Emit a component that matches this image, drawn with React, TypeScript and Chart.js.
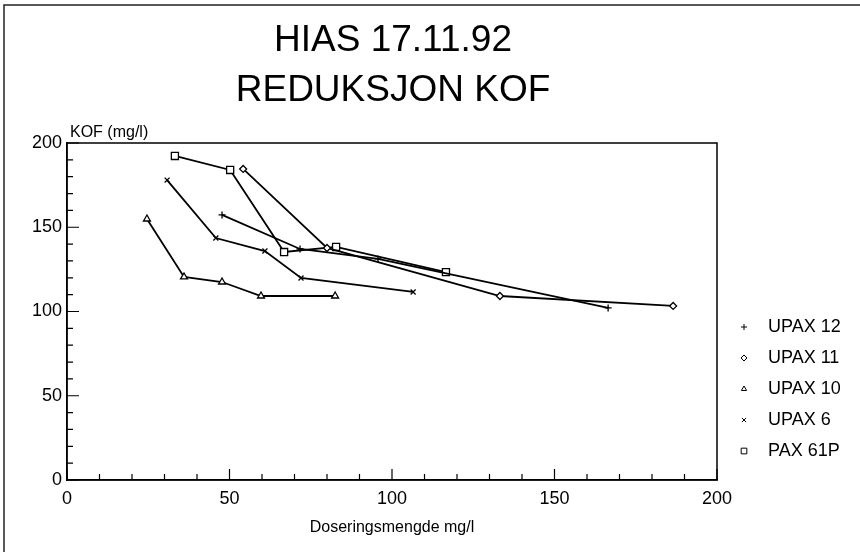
import { useEffect, useRef } from "react";
import { Chart, registerables } from "chart.js";
import { drawPoint } from "chart.js/helpers";

Chart.register(...registerables);

const titleLines = ["HIAS 17.11.92", "REDUKSJON KOF"];
const yAxisTitle = "KOF (mg/l)";
const xAxisTitle = "Doseringsmengde mg/l";

const seriesLabels = ["UPAX 12", "UPAX 11", "UPAX 10", "UPAX 6", "PAX 61P"];
const seriesStyles = ["cross", "rectRot", "triangle", "crossRot", "rect"];

const upax12X = [47.7, 71.7, 95.7, 166.5];
const upax12Y = [157.3, 137.1, 131.2, 102.1];
const upax11X = [54.2, 80.0, 133.2, 186.5];
const upax11Y = [184.6, 137.7, 109.2, 103.3];
const upax10X = [24.6, 36.0, 47.7, 59.7, 82.5];
const upax10Y = [154.9, 120.5, 117.5, 109.2, 109.2];
const upax6X = [30.8, 45.8, 60.9, 72.0, 106.5];
const upax6Y = [178.0, 143.6, 135.9, 119.9, 111.6];
const pax61X = [33.2, 50.2, 66.8, 82.8, 116.6];
const pax61Y = [192.3, 184.0, 135.3, 138.3, 123.4];

const xTickValues = [0, 50, 100, 150, 200];
const yTickValues = [0, 50, 100, 150, 200];
const minorStep = 10;

const seriesX = [upax12X, upax11X, upax10X, upax6X, pax61X];
const seriesY = [upax12Y, upax11Y, upax10Y, upax6Y, pax61Y];

const FONT = "'Liberation Sans', Arial, Helvetica, sans-serif";

const markerRadius = (style: string) => (style === "rect" ? 5 : style === "triangle" ? 4 : 3.5);

const decorPlugin = {
  id: "decor",
  afterDraw(chart: any) {
    const { ctx, chartArea } = chart;
    const xs = chart.scales.x;
    const ys = chart.scales.y;
    ctx.save();
    // outer frame (left and top)
    ctx.strokeStyle = "#222";
    ctx.lineWidth = 1.5;
    ctx.beginPath();
    ctx.moveTo(4, 552);
    ctx.lineTo(4, 5);
    ctx.lineTo(860, 5);
    ctx.stroke();

    // plot box
    ctx.strokeStyle = "#000";
    ctx.lineWidth = 1.5;
    ctx.strokeRect(chartArea.left, chartArea.top, chartArea.right - chartArea.left, chartArea.bottom - chartArea.top);

    // inward ticks
    ctx.lineWidth = 1.2;
    ctx.beginPath();
    for (let v = xs.min; v <= xs.max; v += minorStep) {
      const px = xs.getPixelForValue(v);
      const len = xTickValues.includes(v) ? 11 : 6;
      ctx.moveTo(px, chartArea.bottom);
      ctx.lineTo(px, chartArea.bottom - len);
    }
    for (let v = ys.min; v <= ys.max; v += minorStep) {
      const py = ys.getPixelForValue(v);
      const len = yTickValues.includes(v) ? 12 : 6;
      ctx.moveTo(chartArea.left, py);
      ctx.lineTo(chartArea.left + len, py);
    }
    ctx.stroke();

    // titles
    ctx.fillStyle = "#000";
    ctx.textAlign = "center";
    ctx.textBaseline = "alphabetic";
    ctx.font = `37px ${FONT}`;
    ctx.fillText(titleLines[0], 393, 51);
    ctx.fillText(titleLines[1], 393, 101);

    ctx.textAlign = "left";
    ctx.font = `16px ${FONT}`;
    ctx.fillText(yAxisTitle, 70, 137);

    // legend
    ctx.font = `18px ${FONT}`;
    ctx.textBaseline = "middle";
    chart.data.datasets.forEach((ds: any, i: number) => {
      const y = 327 + i * 31;
      ctx.strokeStyle = "#000";
      ctx.fillStyle = "#fff";
      ctx.lineWidth = 1;
      drawPoint(ctx, { pointStyle: ds.pointStyle, radius: ds.pointStyle === "rect" ? 4 : 3, rotation: 0, borderWidth: 1 } as any, 744, y);
      ctx.fillStyle = "#000";
      ctx.fillText(ds.label, 768, y);
    });
    ctx.restore();
  },
};

export default function App() {
  const ref = useRef<HTMLCanvasElement>(null);
  useEffect(() => {
    document.body.style.margin = "0";
    const canvas = ref.current!;
    const datasets = seriesLabels.map((label, i) => ({
      label,
      data: seriesX[i].map((x, j) => ({ x, y: seriesY[i][j] })),
      borderColor: "#000",
      backgroundColor: "#fff",
      borderWidth: 1.8,
      pointStyle: seriesStyles[i],
      pointRadius: markerRadius(seriesStyles[i]),
      pointBorderWidth: 1.3,
      pointBorderColor: "#000",
      pointBackgroundColor: "#fff",
      showLine: true,
      tension: 0,
    }));
    const chart = new Chart(canvas, {
      type: "scatter",
      data: { datasets },
      options: {
        responsive: false,
        animation: false,
        devicePixelRatio: 1,
        layout: { padding: { top: 143, right: 143, left: 0, bottom: 0 } },
        plugins: { legend: { display: false }, title: { display: false }, tooltip: { enabled: false } },
        scales: {
          x: {
            type: "linear",
            min: 0,
            max: 200,
            afterFit: (s: any) => { s.height = 72; },
            afterBuildTicks: (s: any) => { s.ticks = xTickValues.map((v) => ({ value: v })); },
            ticks: { color: "#000", font: { size: 18, family: FONT }, padding: 8 },
            grid: { display: false, drawTicks: false },
            border: { display: true, color: "#000", width: 1.5 },
            title: { display: true, text: xAxisTitle, color: "#000", font: { size: 16, family: FONT }, padding: { top: 4, bottom: 15 } },
          },
          y: {
            type: "linear",
            min: 0,
            max: 200,
            afterFit: (s: any) => { s.width = 67; },
            afterBuildTicks: (s: any) => { s.ticks = yTickValues.map((v) => ({ value: v })); },
            ticks: { color: "#000", font: { size: 18, family: FONT }, padding: 5 },
            grid: { display: false, drawTicks: false },
            border: { display: true, color: "#000", width: 1.5 },
          },
        },
      },
      plugins: [decorPlugin],
    } as any);
    return () => chart.destroy();
  }, []);
  return <canvas ref={ref} width={860} height={552} style={{ display: "block", background: "#fff" }} />;
}
